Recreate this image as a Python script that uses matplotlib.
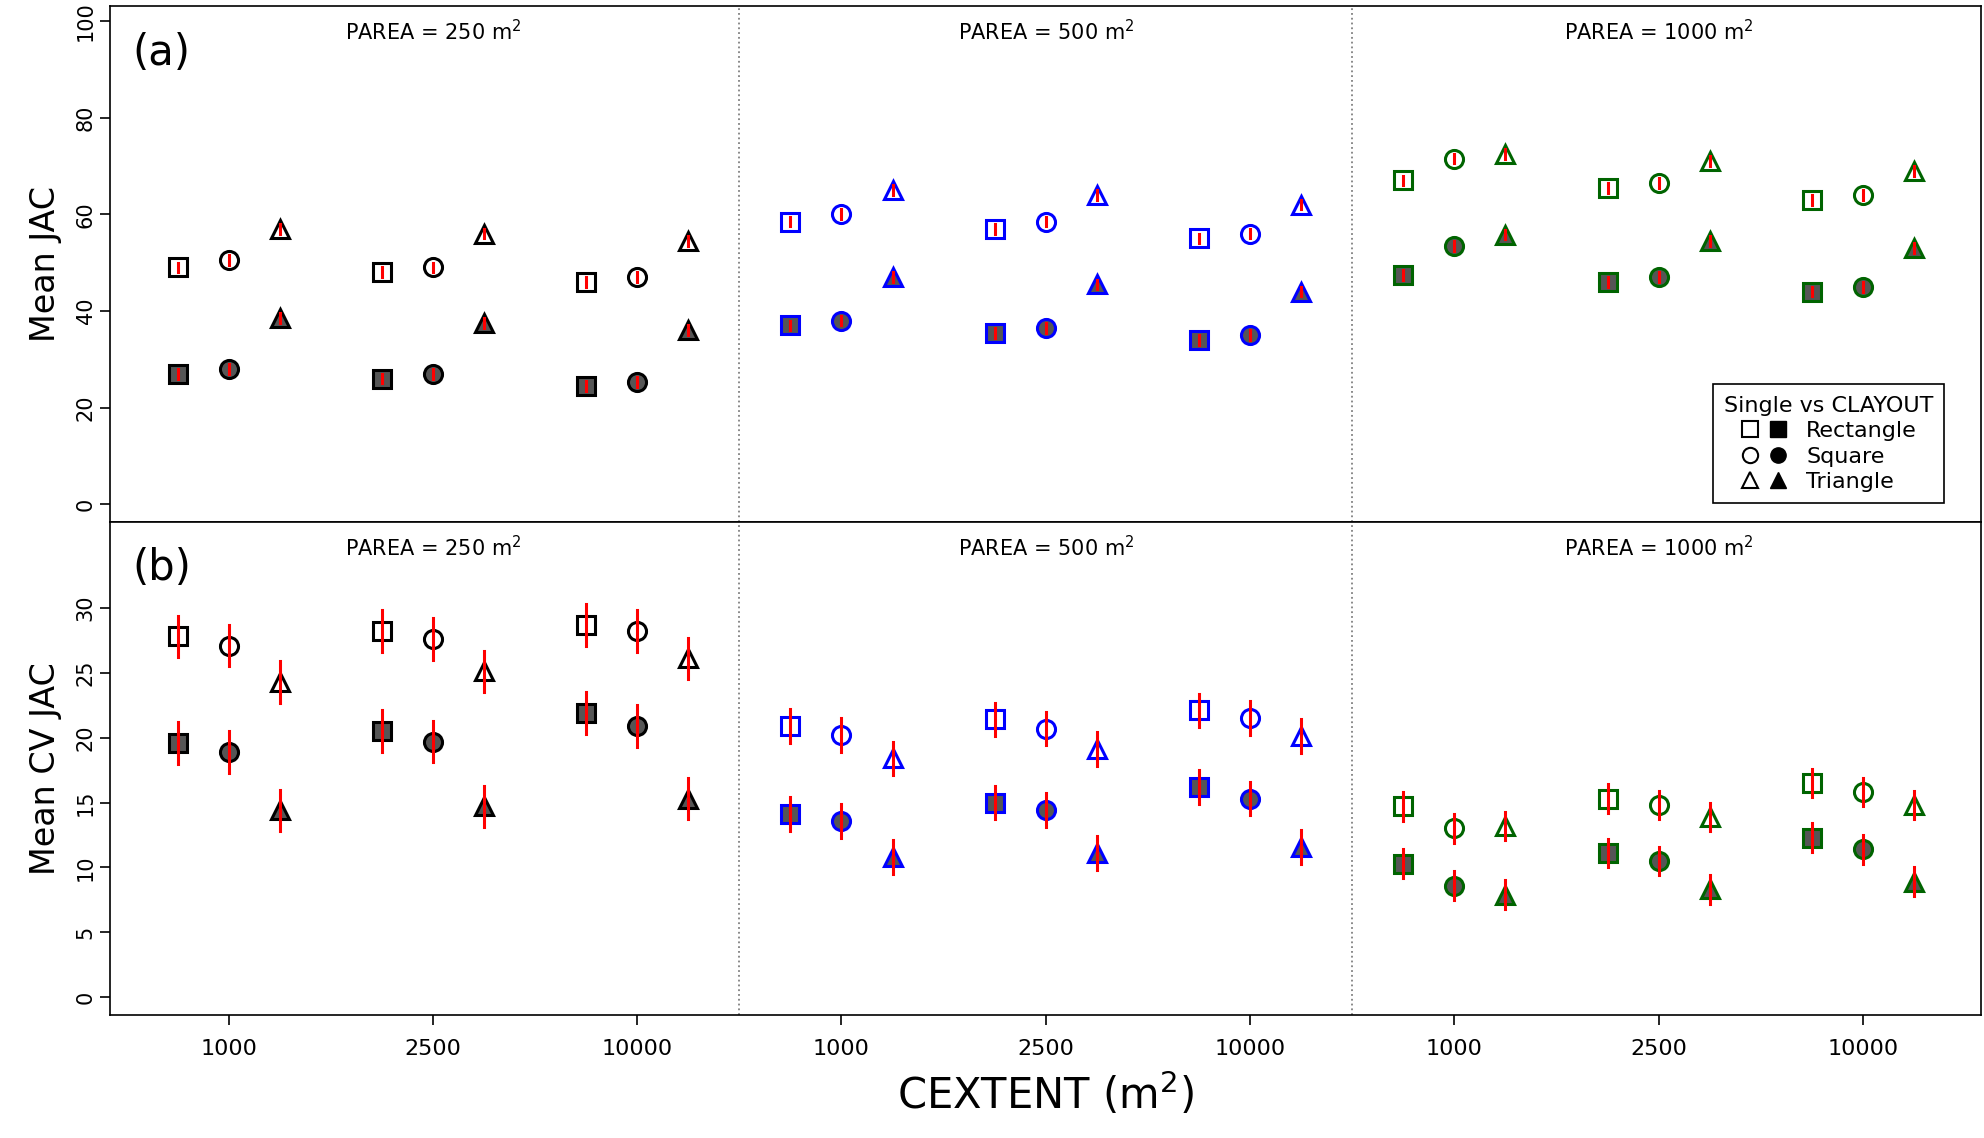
import matplotlib
matplotlib.use("Agg")
import matplotlib.pyplot as plt
import numpy as np
from matplotlib.lines import Line2D
from matplotlib.legend_handler import HandlerTuple

extents = ["1000", "2500", "10000"]
pareas = ["250", "500", "1000"]
group_colors = ["black", "blue", "darkgreen"]
shapes = ["Rectangle", "Square", "Triangle"]
markers = ["s", "o", "^"]

# panel (a) Mean JAC: [shape][parea*3+extent]
jac_single = [
    [49, 48, 46, 58.5, 57, 55, 67, 65.5, 63],
    [50.5, 49, 47, 60, 58.5, 56, 71.5, 66.5, 64],
    [57, 56, 54.5, 65, 64, 62, 72.5, 71, 69],
]
jac_clay = [
    [27, 26, 24.5, 37, 35.5, 34, 47.5, 46, 44],
    [28, 27, 25.3, 38, 36.5, 35, 53.5, 47, 45],
    [38.5, 37.5, 36, 47, 45.5, 44, 55.8, 54.5, 53],
]
jac_err = 1.0
# panel (b) Mean CV JAC
cv_single = [
    [27.8, 28.2, 28.7, 20.9, 21.4, 22.1, 14.7, 15.3, 16.5],
    [27.1, 27.6, 28.2, 20.2, 20.7, 21.5, 13.0, 14.8, 15.8],
    [24.3, 25.1, 26.1, 18.4, 19.1, 20.1, 13.2, 13.9, 14.8],
]
cv_clay = [
    [19.6, 20.5, 21.9, 14.1, 15.0, 16.2, 10.3, 11.1, 12.3],
    [18.9, 19.7, 20.9, 13.6, 14.4, 15.3, 8.6, 10.5, 11.4],
    [14.4, 14.7, 15.3, 10.8, 11.1, 11.6, 7.9, 8.3, 8.9],
]
cv_err_by_parea = [1.6, 1.3, 1.1]

fig = plt.figure(figsize=(19.84, 11.38), dpi=100)
L, R = 0.0555, 0.9987
axa = fig.add_axes([L, 0.5411, R - L, 0.9944 - 0.5411])
axb = fig.add_axes([L, 0.1078, R - L, 0.5411 - 0.1078])

offsets = [-0.25, 0.0, 0.25]
ms = 13

def draw(ax, single, clay, errs):
    for si in range(3):
        for k in range(9):
            p = k // 3
            x = k + offsets[si]
            col = group_colors[p]
            e = errs[p]
            ax.plot(x, single[si][k], marker=markers[si], ms=ms, mfc="white",
                    mec=col, mew=2.2, ls="none", zorder=2)
            ax.plot(x, clay[si][k], marker=markers[si], ms=ms, mfc="#555555",
                    mec=col, mew=2.2, ls="none", zorder=2)
            for v in (single[si][k], clay[si][k]):
                ax.plot([x, x], [v - e, v + e], color="red", lw=2.2, zorder=3)
    for d in (2.5, 5.5):
        ax.axvline(d, color="gray", ls=":", lw=1.3)
    for p in range(3):
        ax.text(p * 3 + 1, 0.975, f"PAREA = {pareas[p]} m$^2$",
                transform=ax.get_xaxis_transform(), ha="center", va="top",
                fontsize=15)
    ax.set_xlim(-0.58, 8.58)
    ax.tick_params(axis="y", labelsize=15, direction="out", length=7, width=1.2,
                   labelrotation=90)
    for sp in ax.spines.values():
        sp.set_linewidth(1.2)

draw(axa, jac_single, jac_clay, [jac_err] * 3)
draw(axb, cv_single, cv_clay, cv_err_by_parea)

axa.set_ylim(-3.7, 103)
axa.set_yticks(np.arange(0, 101, 20))
axa.set_xticks([])
axb.set_ylim(-1.4, 36.6)
axb.set_yticks(np.arange(0, 31, 5))
axb.set_xticks(range(9))
axb.set_xticklabels(extents * 3, fontsize=16)
axb.tick_params(axis="x", direction="out", length=7, width=1.2, pad=10)
for ax in (axa, axb):
    for t in ax.get_yticklabels():
        t.set_va("center")

axa.text(0.012, 0.95, "(a)", transform=axa.transAxes, fontsize=30, va="top")
axb.text(0.012, 0.95, "(b)", transform=axb.transAxes, fontsize=30, va="top")
axa.set_ylabel("Mean JAC", fontsize=24, labelpad=10)
axb.set_ylabel("Mean CV JAC", fontsize=24, labelpad=10)
axb.set_xlabel("CEXTENT (m$^2$)", fontsize=30, labelpad=8)

handles = []
for m in markers:
    h1 = Line2D([], [], marker=m, ms=11, mfc="white", mec="black", mew=1.5, ls="none")
    h2 = Line2D([], [], marker=m, ms=11, mfc="black", mec="black", ls="none")
    handles.append((h1, h2))
leg = axa.legend(handles, shapes, handler_map={tuple: HandlerTuple(ndivide=None, pad=0.3)},
                 title="Single vs CLAYOUT", loc="lower right", bbox_to_anchor=(0.986, 0.015),
                 fontsize=16, title_fontsize=16, fancybox=False, edgecolor="black",
                 framealpha=1, handlelength=2.2, labelspacing=0.25, borderpad=0.5)
leg.get_frame().set_linewidth(1.2)

fig.savefig("out.png", dpi=100)
